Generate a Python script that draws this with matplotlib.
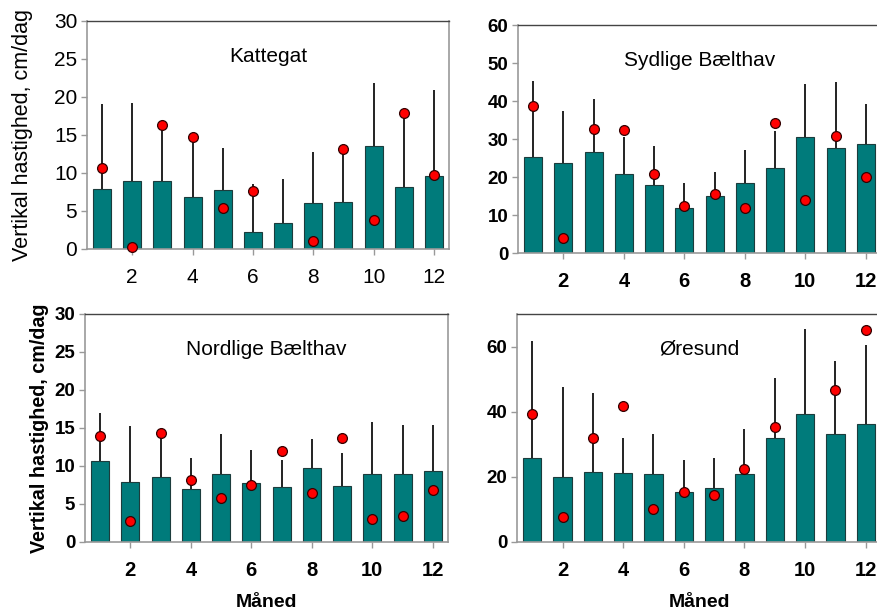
import matplotlib.pyplot as plt
import numpy as np

plt.rcParams['font.family'] = ['Liberation Sans', 'DejaVu Sans']

months = np.arange(1, 13)

# Kattegat
katt_bar = [7.9, 9.0, 8.9, 6.8, 7.8, 2.3, 3.4, 6.05, 6.2, 13.6, 8.2, 9.6]
katt_top = [19.1, 19.2, 16.2, 14.7, 13.3, 8.6, 9.2, 12.7, 13.0, 21.9, 17.7, 20.9]
katt_dot = [10.6, 0.3, 16.3, 14.8, 5.4, 7.6, np.nan, 1.1, 13.1, 3.8, 17.85, 9.7]

# Sydlige Bælthav
syd_bar = [25.2, 23.7, 26.7, 20.7, 17.9, 11.9, 15.1, 18.4, 22.3, 30.5, 27.6, 28.6]
syd_top = [45.2, 37.4, 40.4, 30.5, 28.1, 18.4, 21.4, 27.2, 32.1, 44.4, 45.0, 39.3]
syd_dot = [38.8, 3.9, 32.7, 32.3, 20.7, 12.3, 15.5, 11.9, 34.2, 13.9, 30.8, 20.0]

# Nordlige Bælthav
nord_bar = [10.6, 7.9, 8.6, 7.0, 9.0, 7.8, 7.2, 9.8, 7.4, 8.9, 9.0, 9.4]
nord_top = [17.0, 15.2, 14.2, 11.1, 14.2, 12.1, 10.8, 13.6, 11.7, 15.75, 15.4, 15.4]
nord_dot = [14.0, 2.7, 14.4, 8.2, 5.8, 7.5, 12.0, 6.4, 13.7, 3.0, 3.4, 6.9]

# Øresund
ore_bar = [25.8, 20.0, 21.6, 21.3, 21.0, 15.4, 16.6, 21.0, 32.0, 39.4, 33.3, 36.2]
ore_top = [61.7, 47.7, 45.6, 31.8, 33.1, 25.3, 25.7, 34.6, 50.2, 65.4, 55.6, 60.5]
ore_dot = [39.3, 7.7, 31.9, 41.8, 10.1, 15.3, 14.4, 22.4, 35.2, np.nan, 46.6, 65.0]

W, H = 878, 612
fig = plt.figure(figsize=(W / 100, H / 100), dpi=100)


def make_axes(left, right, top, bottom):
    return fig.add_axes([left / W, 1 - bottom / H, (right - left) / W, (bottom - top) / H])


def panel(ax, bars, tops, dots, title, ymax, yticks, bold, xsize, ysize):
    bars = np.array(bars)
    tops = np.array(tops)
    weight = 'bold' if bold else 'normal'
    ax.errorbar(months, bars, yerr=[np.zeros(12), tops - bars], fmt='none',
                ecolor='#111111', elinewidth=1.3, capsize=0, zorder=1)
    ax.bar(months, bars, width=0.6, color='#007b7b', edgecolor='#1c3c3c',
           linewidth=0.8, zorder=2)
    ax.scatter(months, dots, s=50, color='#ff0000', edgecolor='#330000',
               linewidth=0.9, zorder=3, clip_on=False)
    ax.set_xlim(0.5, 12.5)
    ax.set_ylim(0, ymax)
    ax.set_xticks([2, 4, 6, 8, 10, 12])
    ax.set_yticks(yticks)
    ax.tick_params(axis='x', length=4, width=1, color='#999999', pad=10,
                   labelsize=xsize)
    ax.tick_params(axis='y', length=4, width=1, color='#999999', pad=3,
                   labelsize=ysize)
    for lab in ax.get_xticklabels() + ax.get_yticklabels():
        lab.set_fontweight(weight)
    for side in ['left', 'right', 'bottom']:
        ax.spines[side].set_color('#999999')
        ax.spines[side].set_linewidth(1.2)
    ax.spines['top'].set_color('#444444')
    ax.spines['top'].set_linewidth(1.0)
    ax.text(0.5, 0.845, title, transform=ax.transAxes, ha='center', va='center',
            fontsize=15)


ax1 = make_axes(87, 449, 21, 249)
panel(ax1, katt_bar, katt_top, katt_dot, 'Kattegat', 30, [0, 5, 10, 15, 20, 25, 30],
      False, 15, 15)
ax1.set_ylabel('Vertikal hastighed, cm/dag', fontsize=15.5)
ax1.yaxis.set_label_coords(-0.15, 0.5)

ax2 = make_axes(518, 881, 25, 253)
panel(ax2, syd_bar, syd_top, syd_dot, 'Sydlige Bælthav', 60, [0, 10, 20, 30, 40, 50, 60],
      True, 14.5, 13.5)

ax3 = make_axes(85, 448, 314, 542)
panel(ax3, nord_bar, nord_top, nord_dot, 'Nordlige Bælthav', 30, [0, 5, 10, 15, 20, 25, 30],
      True, 14.5, 13.5)
ax3.set_ylabel('Vertikal hastighed, cm/dag', fontsize=14.2, fontweight='bold')
ax3.yaxis.set_label_coords(-0.098, 0.5)
ax3.set_xlabel('Måned', fontsize=14, fontweight='bold', labelpad=10)

ax4 = make_axes(517, 881, 314, 542)
panel(ax4, ore_bar, ore_top, ore_dot, 'Øresund', 70, [0, 20, 40, 60],
      True, 14.5, 13.5)
ax4.set_xlabel('Måned', fontsize=14, fontweight='bold', labelpad=10)

fig.savefig('out.png', dpi=100)
